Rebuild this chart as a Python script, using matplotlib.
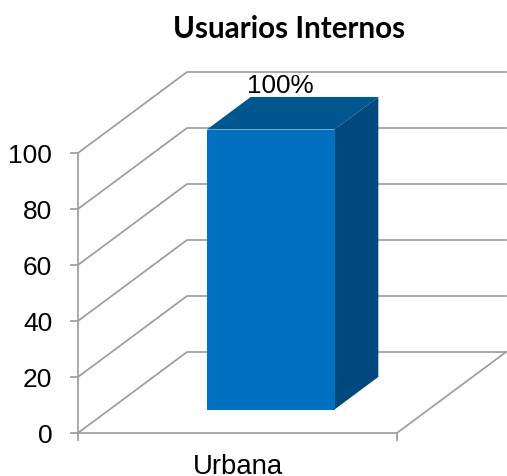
import matplotlib
matplotlib.use('Agg')
import matplotlib.pyplot as plt
from matplotlib.patches import Polygon

# data
categories = ['Urbana']
values = [100]
value_labels = ['100%']
y_ticks = [0, 20, 40, 60, 80, 100]

# oblique projection of the depth axis, in data units
depth_x = 109 / 319
depth_y = 81 / 2.8

grid_col = '#9a9a9a'
W, H = 507, 477


def project(x, v, d):
    # d is 0 at the front of the floor and 1 at the back wall
    return x + d * depth_x, v + d * depth_y


fig = plt.figure(figsize=(W / 100, H / 100), dpi=100)
ax = fig.add_axes([78 / W, (H - 434) / H, 319 / W, 280 / H])
ax.set_xlim(0, 1)
ax.set_ylim(0, y_ticks[-1])

for s in ['top', 'right']:
    ax.spines[s].set_visible(False)
for s in ['left', 'bottom']:
    ax.spines[s].set_color(grid_col)
    ax.spines[s].set_linewidth(1.2)

# gridlines: side wall and back wall
for v in y_ticks:
    xb, yb = project(0, v, 1)
    xe, ye = project(1.0, v, 1)
    ax.plot([0, xb, xe], [v, yb, ye], color=grid_col, lw=1.2, clip_on=False, zorder=1)

# floor outline
xb, yb = project(1, 0, 1)
ax.plot([1, xb], [0, yb], color=grid_col, lw=1.2, clip_on=False, zorder=1)

# bar
bar_w = 0.4
d0, d1 = 0.29, 0.692
for i, val in enumerate(values):
    left = 0.505 + i - bar_w / 2
    right = left + bar_w
    front = [project(left, 0, d0), project(right, 0, d0), project(right, val, d0), project(left, val, d0)]
    side = [project(right, 0, d0), project(right, 0, d1), project(right, val, d1), project(right, val, d0)]
    top = [project(left, val, d0), project(right, val, d0), project(right, val, d1), project(left, val, d1)]
    ax.add_patch(Polygon(side, closed=True, fc='#00497f', ec='none', clip_on=False, zorder=2))
    ax.add_patch(Polygon(top, closed=True, fc='#00568f', ec='none', clip_on=False, zorder=2))
    ax.add_patch(Polygon(front, closed=True, fc='#0070c0', ec='none', clip_on=False, zorder=3))
    tx, ty = project(0.5 + i, val, 0.5)
    ax.text(tx - 0.037, project(0, val, d1)[1], value_labels[i], ha='center', va='bottom', fontsize=18.8,
            family='Liberation Sans', color='black', zorder=4)

# ticks
ax.set_yticks(y_ticks)
ax.set_yticklabels([str(v) for v in y_ticks], fontsize=19, family='Liberation Sans')
ax.tick_params(axis='y', length=5.5, width=1.2, color=grid_col, pad=13)
ax.set_xticks([0, 1])
ax.set_xticklabels(['', ''])
ax.set_xticks([0.5], labels=categories, minor=True, fontsize=19.8, family='Liberation Sans')
ax.tick_params(axis='x', which='major', length=5.5, width=1.2, color=grid_col)
ax.tick_params(axis='x', which='minor', length=0, pad=14.5)

fig.text(289 / W, (H - 29) / H, 'Usuarios Internos', ha='center', va='center',
         fontsize=21.3, fontweight='bold', family='Lato')

fig.savefig('out.png', dpi=100)
